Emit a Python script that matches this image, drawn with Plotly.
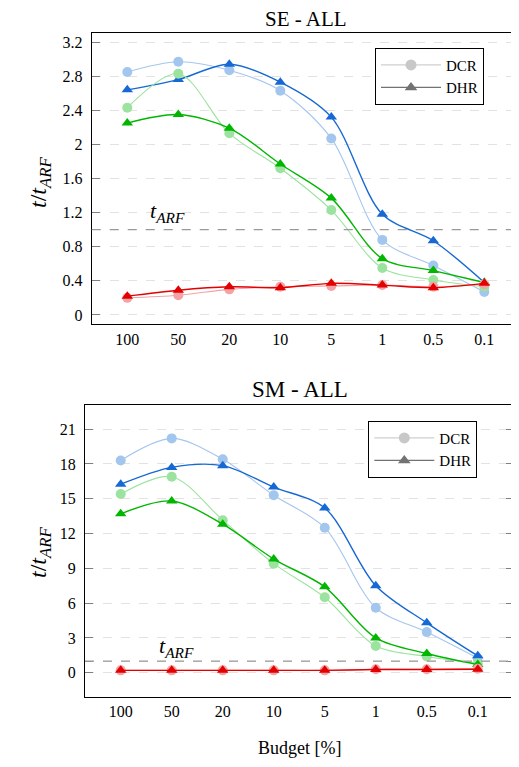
import plotly.graph_objects as go

W, H = 519, 767
OFF = 8  # default page body margin
FW, FH = W - OFF, H - OFF

budgets = ["100", "50", "20", "10", "5", "1", "0.5", "0.1"]

# SE - ALL
se_dcr_blue = [2.85, 2.97, 2.87, 2.63, 2.07, 0.88, 0.58, 0.27]
se_dhr_blue = [2.64, 2.76, 2.94, 2.73, 2.32, 1.18, 0.87, 0.38]
se_dcr_green = [2.43, 2.83, 2.13, 1.72, 1.23, 0.55, 0.41, 0.33]
se_dhr_green = [2.25, 2.35, 2.19, 1.77, 1.37, 0.66, 0.52, 0.38]
se_dcr_red = [0.20, 0.23, 0.30, 0.33, 0.34, 0.35, 0.33, 0.36]
se_dhr_red = [0.22, 0.29, 0.33, 0.32, 0.37, 0.35, 0.32, 0.37]

# SM - ALL
sm_dcr_blue = [18.3, 20.2, 18.4, 15.3, 12.5, 5.6, 3.5, 1.25]
sm_dhr_blue = [16.25, 17.7, 17.85, 16.0, 14.2, 7.5, 4.3, 1.45]
sm_dcr_green = [15.4, 16.9, 13.15, 9.4, 6.5, 2.3, 1.4, 0.8]
sm_dhr_green = [13.7, 14.8, 12.8, 9.8, 7.4, 3.0, 1.65, 0.7]
sm_dcr_red = [0.2, 0.2, 0.2, 0.2, 0.2, 0.3, 0.3, 0.35]
sm_dhr_red = [0.2, 0.2, 0.2, 0.2, 0.2, 0.27, 0.28, 0.3]

se_ticks = [0, 0.4, 0.8, 1, 1.2, 1.6, 2, 2.4, 2.8, 3.2]
se_ticktext = ["0", "0.4", "0.8", "", "1.2", "1.6", "2", "2.4", "2.8", "3.2"]
sm_ticks = [0, 1, 3, 6, 9, 12, 15, 18, 21]
sm_ticktext = ["0", "", "3", "6", "9", "12", "15", "18", "21"]

t_arf = 1

LB, DB = "#a3c6ee", "#1668d4"
LG, DG = "#9be39e", "#00b600"
LR, DR = "#f3a3a6", "#e30000"

SERIF = "Liberation Serif, DejaVu Serif, serif"

fig = go.Figure()

def add(x, y, color, symbol, xa, ya, width, size):
    fig.add_trace(go.Scatter(
        x=x, y=y, mode="lines+markers", xaxis=xa, yaxis=ya,
        line=dict(color=color, width=width, shape="spline", smoothing=0.9),
        marker=dict(color=color, symbol=symbol, size=size, line=dict(width=0)),
        showlegend=False, hoverinfo="skip", cliponaxis=True))

for (xa, ya, series) in [
    ("x", "y", [(se_dcr_blue, LB, "circle"), (se_dhr_blue, DB, "triangle-up"),
                (se_dcr_green, LG, "circle"), (se_dhr_green, DG, "triangle-up"),
                (se_dcr_red, LR, "circle"), (se_dhr_red, DR, "triangle-up")]),
    ("x2", "y2", [(sm_dcr_blue, LB, "circle"), (sm_dhr_blue, DB, "triangle-up"),
                  (sm_dcr_green, LG, "circle"), (sm_dhr_green, DG, "triangle-up"),
                  (sm_dcr_red, LR, "circle"), (sm_dhr_red, DR, "triangle-up")]),
]:
    for vals, col, sym in series:
        if sym == "circle":
            add(budgets, vals, col, sym, xa, ya, 1.1, 10)
        else:
            add(budgets, vals, col, sym, xa, ya, 1.4, 10)

# legend entries
for lg, xa, ya in [("legend", "x", "y"), ("legend2", "x2", "y2")]:
    fig.add_trace(go.Scatter(x=[None], y=[None], mode="lines+markers", name="DCR",
                             line=dict(color="#cfcfcf", width=1.2),
                             marker=dict(color="#c8c8c8", symbol="circle", size=11),
                             legend=lg, xaxis=xa, yaxis=ya))
    fig.add_trace(go.Scatter(x=[None], y=[None], mode="lines+markers", name="DHR",
                             line=dict(color="#727272", width=1.2),
                             marker=dict(color="#727272", symbol="triangle-up", size=11),
                             legend=lg, xaxis=xa, yaxis=ya))

def px_x(p):
    return (p - OFF) / FW

def px_y(p):
    return 1 - (p - OFF) / FH

common_x = dict(type="category", categoryorder="array", categoryarray=budgets,
                showline=True, linecolor="black", linewidth=1.2, mirror=True,
                ticks="", showgrid=False, zeroline=False,
                tickfont=dict(family=SERIF, size=16, color="black"))
common_y = dict(showline=True, linecolor="black", linewidth=1.2, mirror="ticks",
                ticks="inside", ticklen=8, tickcolor="#808080", tickwidth=1,
                showgrid=True, gridcolor="#e2e2e2", griddash="dash", gridwidth=1,
                zeroline=False, tickmode="array", ticklabelstandoff=5,
                tickfont=dict(family=SERIF, size=16, color="black"))

legend_common = dict(xanchor="right", yanchor="top",
                     bordercolor="black", borderwidth=1, bgcolor="white",
                     itemwidth=60, font=dict(family=SERIF, size=15, color="black"))

fig.update_layout(
    width=FW, height=FH, margin=dict(l=0, r=0, t=0, b=0),
    font=dict(family=SERIF, color="black"),
    plot_bgcolor="white", paper_bgcolor="white",
    xaxis=dict(common_x, domain=[px_x(91.7), 1.0], range=[-0.698, 7.68], anchor="y"),
    yaxis=dict(common_y, domain=[px_y(324.3), px_y(32.7)], range=[-0.11, 3.31],
               tickvals=se_ticks, ticktext=se_ticktext, anchor="x"),
    xaxis2=dict(common_x, domain=[px_x(85), px_x(514)], range=[-0.70, 7.71], anchor="y2"),
    yaxis2=dict(common_y, domain=[px_y(696.7), px_y(405)], range=[-2.07, 23.08],
                tickvals=sm_ticks, ticktext=sm_ticktext, anchor="x2"),
    legend=dict(legend_common, x=px_x(484), y=px_y(47.7)),
    legend2=dict(legend_common, x=px_x(477.3), y=px_y(420.7)),
)

# t_ARF reference lines
for xa, ya in [("x", "y"), ("x2", "y2")]:
    fig.add_shape(type="line", xref=f"{xa} domain", yref=ya, x0=0, x1=1,
                  y0=t_arf, y1=t_arf, line=dict(color="#9a9a9a", width=1.3, dash="dash"),
                  layer="above")

annots = [
    dict(text="SE - ALL", x=px_x(305.5), y=px_y(19.5), font=dict(size=21)),
    dict(text="SM - ALL", x=px_x(299.5), y=px_y(389), font=dict(size=23)),
    dict(text="Budget [%]", x=px_x(299.5), y=px_y(748), font=dict(size=18)),
    dict(text="<i>t</i>/<i>t</i><sub><i>ARF</i></sub>", x=px_x(40), y=px_y(182),
         textangle=-90, font=dict(size=24)),
    dict(text="<i>t</i>/<i>t</i><sub><i>ARF</i></sub>", x=px_x(40), y=px_y(552),
         textangle=-90, font=dict(size=24)),
    dict(text="<i>t</i><sub><i>ARF</i></sub>", x=px_x(167), y=px_y(212), font=dict(size=22)),
    dict(text="<i>t</i><sub><i>ARF</i></sub>", x=px_x(176), y=px_y(647), font=dict(size=22)),
]
for a in annots:
    f = dict(family=SERIF, color="black")
    f.update(a.pop("font"))
    fig.add_annotation(xref="paper", yref="paper", showarrow=False,
                       xanchor="center", yanchor="middle", font=f, **a)

fig.write_html("out.html")
